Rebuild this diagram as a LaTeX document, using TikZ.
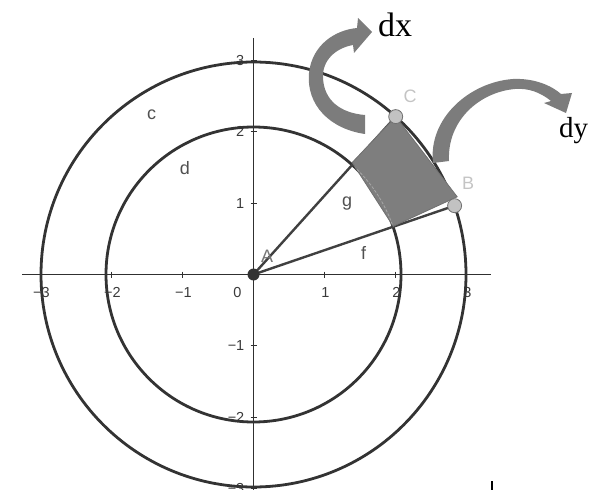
\documentclass[tikz,border=0pt]{standalone}
\usepackage{fontspec}
\setmainfont{Liberation Serif}
\newfontfamily\lsans{Liberation Sans}
\definecolor{curvecol}{HTML}{333333}
\definecolor{axiscol}{HTML}{303030}
\definecolor{segcol}{HTML}{404040}
\definecolor{numcol}{HTML}{3A3A3A}
\definecolor{lblcol}{HTML}{505050}
\definecolor{acol}{HTML}{767676}
\definecolor{bccol}{HTML}{C4C4C4}
\definecolor{quadcol}{HTML}{7E7E7E}
\definecolor{quadedge}{HTML}{707070}
\definecolor{arrowcol}{HTML}{7C7C7C}
\definecolor{ptfill}{HTML}{C2C2C2}
\begin{document}
\begin{tikzpicture}[x=1pt,y=-1pt,
  curve/.style={draw=curvecol,line width=2.8pt},
  axis/.style={draw=axiscol,line width=1.3pt},
  tickmark/.style={draw=axiscol,line width=1pt},
  seg/.style={draw=segcol,line width=2.4pt},
  ticklbl/.style={font=\lsans\fontsize{14.5}{15}\selectfont,text=numcol,inner sep=0pt},
  objlbl/.style={font=\lsans\fontsize{18}{19}\selectfont,text=lblcol,inner sep=0pt},
  bigarrow/.style={fill=arrowcol,draw=none},
  darkpt/.style={circle,fill=curvecol,draw=none,minimum size=12pt,inner sep=0pt},
  lightpt/.style={circle,fill=ptfill,draw=quadedge,line width=0.8pt,minimum size=14pt,inner sep=0pt},
  difflbl/.style={inner sep=0pt,anchor=base west}]
\useasboundingbox (0,0) rectangle (593,489);
\clip (0,0) rectangle (593,489);

% geometry
\coordinate (O) at (253.5,274.5);
\coordinate (c-B) at (454.6,205.7);
\coordinate (c-C) at (395.7,116.6);
\coordinate (q-left) at (352.2,162.5);
\coordinate (q-bottom) at (393.2,226.3);
\coordinate (q-right) at (457.2,196.8);

% axes
\coordinate (xl) at (22,274.5);
\coordinate (xr) at (491,274.5);
\coordinate (yt) at (253.5,38);
\coordinate (yb) at (253.5,495);
\draw[axis] (xl) -- (xr);
\draw[axis] (yt) -- (yb);

% ticks and numbers on x
\foreach \i/\t in {-3/{−3},-2/{−2},-1/{−1},1/1,2/2,3/3}{
  \draw[tickmark] ({253.5+71*\i},271.5) -- ({253.5+71*\i},277.5);
  \node[ticklbl] (xn\i) at ({254.5+71*\i},292.5) {\t};
}
\node[ticklbl] (xn0) at (237.5,292.5) {0};
% ticks and numbers on y
\foreach \i/\t in {-3/{−3},-2/{−2},-1/{−1},1/1,2/2,3/3}{
  \draw[tickmark] (250.5,{274.5-71.3*\i}) -- (256.5,{274.5-71.3*\i});
  \node[ticklbl,anchor=east] (yn\i) at (244.5,{274.5-71.3*\i}) {\t};
}

% circles
\draw[curve] (O) circle[radius=212.5];
\draw[curve] (O) circle[radius=147.5];

% segments g and f
\draw[seg] (O) -- (c-C);
\draw[seg] (O) -- (c-B);

% shaded quadrilateral
\filldraw[fill=quadcol,draw=quadedge,line width=0.8pt] (q-left) -- (c-C) -- (q-right) -- (q-bottom) -- cycle;
\begin{scope}
  \clip (q-left) -- (c-C) -- (q-right) -- (q-bottom) -- cycle;
  \draw[draw=black!35,dash pattern=on 3pt off 1.5pt,line width=0.8pt] (O) circle[radius=147.5];
\end{scope}

% points
\node[darkpt] (A) at (O) {};
\node[lightpt] (B) at (c-B) {};
\node[lightpt] (C) at (c-C) {};

% labels
\node[objlbl] (lc) at (151.7,114.5) {c};
\node[objlbl] (ld) at (185,168) {d};
\node[objlbl] (lg) at (347,204) {g};
\node[objlbl] (lf) at (363.5,253) {f};
\node[objlbl,text=acol] (lA) at (267,256) {A};
\node[objlbl,text=bccol] (lB) at (468,183) {B};
\node[objlbl,text=bccol] (lC) at (410,96) {C};

% curved block arrows
\fill[bigarrow] (365,134) .. controls (330,129) and (306,105) .. (309,73)
  .. controls (312,45) and (335,30) .. (357,28)
  -- (358,18) -- (372,32) -- (354,53) -- (353,45)
  .. controls (336,48) and (322,60) .. (323,78)
  .. controls (324,100) and (340,113) .. (365,115) -- cycle;
\fill[bigarrow] (433,163) .. controls (428,118) and (470,82) .. (513,79)
  .. controls (535,78) and (552,86) .. (561,94)
  -- (572,93) -- (566,113) -- (544,103) -- (551,101)
  .. controls (540,92) and (528,88) .. (515,89)
  .. controls (480,92) and (447,120) .. (449,161) -- cycle;

% dx, dy
\node[difflbl,font=\fontsize{34}{36}\selectfont] (dx) at (378,36.7) {dx};
\node[difflbl,font=\fontsize{29}{31}\selectfont] (dy) at (559,137.3) {dy};

% small mark bottom right
\draw[line width=1.2pt,draw=black] (492,481) -- (492,490);
\end{tikzpicture}
\end{document}
